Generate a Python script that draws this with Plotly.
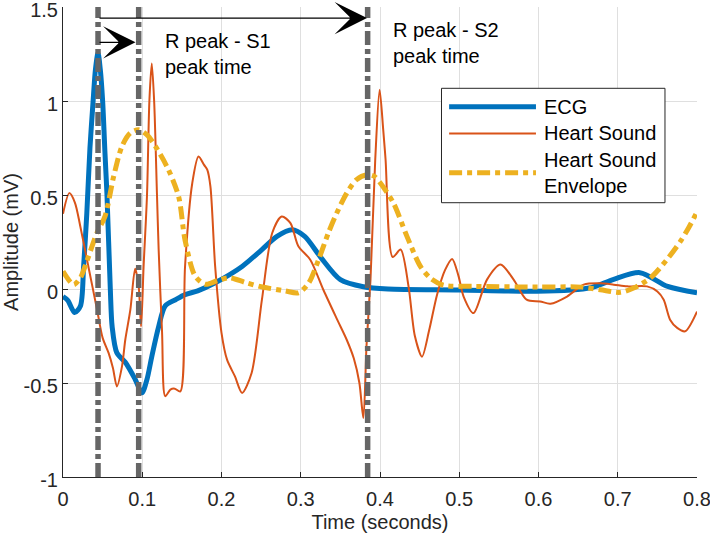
import plotly.graph_objects as go

# ---- data (time in s, amplitude in mV) ----
ECG_T = [0, 0.006, 0.0146, 0.022, 0.026, 0.030, 0.034, 0.038, 0.041, 0.0442,
         0.047, 0.050, 0.053, 0.0555, 0.0597, 0.062, 0.068, 0.0786, 0.091, 0.0996,
         0.106, 0.112, 0.1207, 0.129, 0.142, 0.154, 0.17, 0.192, 0.226, 0.251,
         0.27, 0.289, 0.305, 0.325, 0.35, 0.379, 0.41, 0.5, 0.598, 0.666,
         0.694, 0.728, 0.763, 0.8]
ECG_V = [-0.04, -0.06, -0.125, -0.09, 0.12, 0.4, 0.75, 1.0, 1.17, 1.255,
         1.17, 1.0, 0.72, 0.5, 0.0, -0.2, -0.34, -0.39, -0.48, -0.552,
         -0.48, -0.36, -0.2, -0.09, -0.057, -0.03, -0.01, 0.033, 0.12, 0.21,
         0.28, 0.315, 0.28, 0.17, 0.05, 0.012, 0.0, -0.005, -0.012, 0.007,
         0.05, 0.087, 0.014, -0.02]

HS_T = [0, 0.008, 0.015, 0.022, 0.032, 0.043, 0.050, 0.0575, 0.063, 0.068,
        0.0745, 0.0786, 0.085, 0.091, 0.0955, 0.0985, 0.1017, 0.106, 0.109, 0.112,
        0.115, 0.1186, 0.1207, 0.125, 0.129, 0.1355, 0.141, 0.148, 0.154, 0.163,
        0.171, 0.178, 0.182, 0.186, 0.192, 0.2, 0.207, 0.217, 0.226, 0.238,
        0.251, 0.264, 0.276, 0.287, 0.297, 0.312, 0.3285, 0.346, 0.358, 0.367,
        0.374, 0.379, 0.383, 0.388, 0.394, 0.3995, 0.404, 0.407, 0.416, 0.426,
        0.436, 0.444, 0.453, 0.462, 0.472, 0.482, 0.491, 0.499, 0.5055, 0.518,
        0.535, 0.552, 0.5686, 0.585, 0.602, 0.615, 0.636, 0.657, 0.678, 0.695,
        0.712, 0.737, 0.75, 0.758, 0.766, 0.775, 0.785, 0.8]
HS_V = [0.40, 0.51, 0.46, 0.33, 0.12, -0.11, -0.26, -0.34, -0.42, -0.518,
        -0.41, -0.27, -0.11, 0.108, 0.014, -0.2, 0.12, 0.5, 1.0, 1.2,
        1.0, 0.5, 0.21, -0.23, -0.57, -0.535, -0.53, -0.545, 0.12, 0.56,
        0.705, 0.66, 0.635, 0.546, 0.12, -0.233, -0.376, -0.465, -0.553, -0.447,
        -0.057, 0.298, 0.386, 0.35, 0.227, 0.156, -0.004, -0.163, -0.27, -0.37,
        -0.5, -0.686, -0.3, 0.05, 0.69, 1.06, 0.85, 0.69, 0.17, 0.21,
        0.014, -0.25, -0.36, -0.22, -0.03, 0.1, 0.16, 0.07, -0.04, -0.128,
        0.05, 0.13, 0.05, -0.057, -0.066, -0.078, -0.04, 0.023, 0.03, 0.023,
        0.014, 0.014, -0.013, -0.057, -0.163, -0.207, -0.225, -0.12]

ENV_T = [0, 0.0134, 0.022, 0.030, 0.043, 0.053, 0.064, 0.0745, 0.085, 0.0955,
         0.106, 0.1165, 0.133, 0.146, 0.154, 0.167, 0.18, 0.195, 0.21, 0.23,
         0.25, 0.28, 0.297, 0.31, 0.3225, 0.335, 0.345, 0.358, 0.37, 0.3836,
         0.3925, 0.4004, 0.417, 0.434, 0.451, 0.4635, 0.48, 0.52, 0.6, 0.654,
         0.678, 0.703, 0.72, 0.741, 0.762, 0.779, 0.79, 0.8]
ENV_V = [0.094, 0.023, 0.06, 0.147, 0.3, 0.386, 0.6, 0.76, 0.83, 0.847,
         0.82, 0.76, 0.635, 0.49, 0.26, 0.067, 0.025, 0.045, 0.06, 0.035,
         0.012, -0.01, -0.02, 0.032, 0.156, 0.3, 0.4, 0.51, 0.58, 0.608,
         0.6, 0.564, 0.457, 0.28, 0.12, 0.058, 0.02, 0.014, 0.01, 0.01,
         -0.004, -0.018, 0.005, 0.058, 0.156, 0.253, 0.33, 0.41]

# R peak, S1 peak, S2 peak times
MARKER_T = [0.0442, 0.0955, 0.3844]
ARROW_Y = [1.441, 1.312]           # long arrow (R->S2), short arrow (R->S1)
LABEL_TEXT = ["R peak - S1<br>peak time", "R peak - S2<br>peak time"]
LABEL_POS = [(0.126, 1.25), (0.414, 1.306)]

X_TICKS = [0, 0.1, 0.2, 0.3, 0.4, 0.5, 0.6, 0.7, 0.8]
X_TICKTEXT = ["0", "0.1", "0.2", "0.3", "0.4", "0.5", "0.6", "0.7", "0.8"]
Y_TICKS = [-1, -0.5, 0, 0.5, 1, 1.5]
Y_TICKTEXT = ["-1", "-0.5", "0", "0.5", "1", "1.5"]

SERIES_NAMES = ["ECG", "Heart Sound", "Heart Sound<br>Envelope"]

FONT = "Liberation Sans, Arial, Helvetica, sans-serif"
C_ECG = "#0072BD"
C_HS = "#D95319"
C_ENV = "#EDB120"
C_MARK = "#666666"
ENV_DASH = "13px,5px,5px,5px"
MARK_DASH = "14px,4px,5px,4px"

fig = go.Figure()

fig.add_trace(go.Scatter(
    x=ECG_T, y=ECG_V, name="ECG", mode="lines",
    line=dict(color=C_ECG, width=5, shape="spline", smoothing=0.8),
    showlegend=False,
))
fig.add_trace(go.Scatter(
    x=HS_T, y=HS_V, name="Heart Sound", mode="lines",
    line=dict(color=C_HS, width=2, shape="spline", smoothing=0.8),
    showlegend=False,
))
fig.add_trace(go.Scatter(
    x=ENV_T, y=ENV_V, name="Heart Sound Envelope", mode="lines",
    line=dict(color=C_ENV, width=5, dash=ENV_DASH, shape="spline", smoothing=0.8),
    showlegend=False,
))

# vertical marker lines
for t in MARKER_T:
    fig.add_shape(type="line", xref="x", yref="paper", x0=t, x1=t, y0=0, y1=1,
                  line=dict(color=C_MARK, width=5.5, dash=MARK_DASH), layer="above")

# arrows: R peak -> S2 (long), R peak -> S1 (short)
arrow_targets = [MARKER_T[2] - 0.0008, MARKER_T[1] - 0.004]
for tip, yv in zip(arrow_targets, ARROW_Y):
    fig.add_annotation(
        x=tip, y=yv, ax=MARKER_T[0], ay=yv, xref="x", yref="y", axref="x", ayref="y",
        text="", showarrow=True, arrowhead=3, arrowsize=4.5, arrowwidth=1.2,
        arrowcolor="black", standoff=0, startstandoff=0,
    )

for txt, (px, py) in zip(LABEL_TEXT, LABEL_POS):
    fig.add_annotation(
        x=px, y=py, xref="x", yref="y", text=txt, showarrow=False,
        xanchor="left", yanchor="middle", align="left",
        font=dict(size=20, color="#000000", family=FONT),
    )

# legend drawn by hand (MATLAB style long line samples)
lx0, lx1, ly0, ly1 = 0.597, 0.9495, 0.5836, 0.827
fig.add_shape(type="rect", xref="paper", yref="paper", x0=lx0, x1=lx1, y0=ly0, y1=ly1,
              line=dict(color="#262626", width=1), fillcolor="white", layer="above")
rows = [0.788, 0.731, 0.6474]
styles = [dict(color=C_ECG, width=5), dict(color=C_HS, width=2),
          dict(color=C_ENV, width=5, dash=ENV_DASH)]
for name, ry, st in zip(SERIES_NAMES, rows, styles):
    fig.add_shape(type="line", xref="paper", yref="paper", x0=0.609, x1=0.746,
                  y0=ry, y1=ry, line=st, layer="above")
    fig.add_annotation(x=0.755, y=ry, xref="paper", yref="paper", text=name,
                       showarrow=False, xanchor="left", yanchor="middle", align="left",
                       font=dict(size=20, color="#000000", family=FONT))

axis_common = dict(
    showgrid=True, gridcolor="#dfdfdf", gridwidth=1,
    showline=True, linecolor="#262626", linewidth=1,
    ticks="inside", ticklen=5, tickcolor="#262626",
    zeroline=False, mirror=False, automargin=False,
    ticklabeloverflow="allow",
    tickfont=dict(size=20, color="#262626", family=FONT),
)
fig.update_xaxes(
    range=[0, 0.8], tickvals=X_TICKS, ticktext=X_TICKTEXT, ticklabelstandoff=4,
    title=dict(text="Time (seconds)", font=dict(size=20, color="#262626", family=FONT),
               standoff=5),
    **axis_common,
)
fig.update_yaxes(
    range=[-1, 1.5], tickvals=Y_TICKS, ticktext=Y_TICKTEXT, ticklabelshift=3,
    title=dict(text="Amplitude (mV)", font=dict(size=20, color="#262626", family=FONT),
               standoff=6),
    **axis_common,
)

fig.update_layout(
    width=710, height=533,
    margin=dict(l=63, r=13, t=7, b=56),
    paper_bgcolor="white", plot_bgcolor="white",
    font=dict(family=FONT, size=20, color="#262626"),
    showlegend=False,
)

# drop the browser's default body margin so the figure sits at the page corner
fig.write_html("out.html", config={"displayModeBar": False},
               post_script="document.body.style.margin='0';")
